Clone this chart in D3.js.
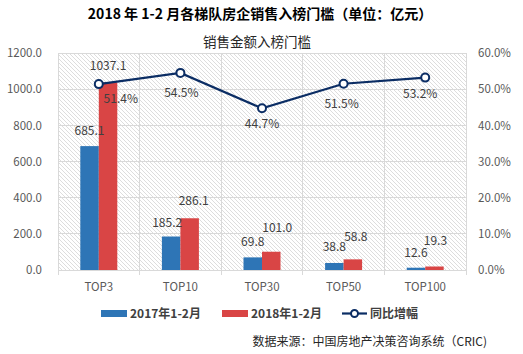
<!DOCTYPE html>
<html><head><meta charset="utf-8">
<script src="https://cdn.jsdelivr.net/npm/d3@7"></script>
<style>
body{margin:0;background:#fff;}
svg{display:block;font-family:"Noto Sans CJK SC","Noto Sans",sans-serif;}
</style></head>
<body>
<svg id="c" width="523" height="354"></svg>
<script>
const categories = ["TOP3","TOP10","TOP30","TOP50","TOP100"];
const sales2017 = [685.1,185.2,69.8,38.8,12.6];
const sales2018 = [1037.1,286.1,101.0,58.8,19.3];
const growth = [0.514,0.545,0.447,0.515,0.532];
const leftTicks = [0,200,400,600,800,1000,1200];
const rightTicks = [0,0.1,0.2,0.3,0.4,0.5,0.6];
const seriesNames = ["2017年1-2月","2018年1-2月","同比增幅"];
const colors = {blue:"#2E75B6", red:"#D94545", line:"#0B2D64", text:"#595959", grid:"#d9d9d9"};
// label nudges (layout only)
const lab17dx = [0,-4,0,0,0], lab17dy = [11,10,11,12,11];
const lab18dx = [0,4,6,3,1],  lab18dy = [12,13,20,18,22];
const gDx = [22,1,0,-2,-5], gDy = [19,24,20,24,20];

const svg = d3.select("#c");
const m = {l:58, r:466, t:53, b:270};

const x = d3.scaleBand().domain(categories).range([m.l,m.r]).paddingInner(0).paddingOuter(0);
const y = d3.scaleLinear().domain([0,1200]).range([m.b,m.t]);
const y2 = d3.scaleLinear().domain([0,0.6]).range([m.b,m.t]);

// hatch pattern
const defs = svg.append("defs");
const pat = defs.append("pattern").attr("id","hatch").attr("patternUnits","userSpaceOnUse")
  .attr("width",4).attr("height",4);
pat.append("rect").attr("width",4).attr("height",4).attr("fill","#fff");
pat.append("path").attr("d","M-1,-1 L5,5 M-1,3 L1,5 M3,-1 L5,1").attr("stroke","#d4d4d4").attr("stroke-width",0.8);

svg.append("rect").attr("x",m.l).attr("y",m.t).attr("width",m.r-m.l).attr("height",m.b-m.t).attr("fill","url(#hatch)");

// grid
svg.append("g").selectAll("line").data(leftTicks).join("line")
  .attr("x1",m.l).attr("x2",m.r).attr("y1",d=>y(d)).attr("y2",d=>y(d))
  .attr("stroke",colors.grid).attr("stroke-width",1).attr("shape-rendering","crispEdges");
const bounds = categories.map(c=>x(c)).concat([m.r]);
svg.append("g").selectAll("line").data(bounds).join("line")
  .attr("x1",d=>d).attr("x2",d=>d).attr("y1",m.t).attr("y2",m.b+5)
  .attr("stroke",colors.grid).attr("stroke-width",1).attr("shape-rendering","crispEdges");

// axes
const yl = d3.axisLeft(y).tickValues(leftTicks).tickFormat(d3.format(".1f")).tickSize(0).tickPadding(16);
const gl = svg.append("g").attr("transform",`translate(${m.l},0)`).call(yl);
const yr = d3.axisRight(y2).tickValues(rightTicks).tickFormat(d3.format(".1%")).tickSize(0).tickPadding(12);
const gr = svg.append("g").attr("transform",`translate(${m.r},0)`).call(yr);
const xa = d3.axisBottom(x).tickSize(0).tickPadding(13);
const gx = svg.append("g").attr("transform",`translate(0,${m.b})`).call(xa);
[gl,gr,gx].forEach(g=>{
  g.select(".domain").remove();
  g.selectAll("text").attr("fill",colors.text).attr("font-size",11.5)
   .attr("font-family","'Noto Sans CJK SC',sans-serif");
});

// bars
const bw = 18.5;
const bars = svg.append("g");
bars.selectAll(".b17").data(categories).join("rect")
  .attr("x",(d)=>x(d)+x.bandwidth()/2-bw).attr("width",bw)
  .attr("y",(d,i)=>y(sales2017[i])).attr("height",(d,i)=>m.b-y(sales2017[i])).attr("fill",colors.blue);
bars.selectAll(".b18").data(categories).join("rect")
  .attr("x",(d)=>x(d)+x.bandwidth()/2).attr("width",bw)
  .attr("y",(d,i)=>y(sales2018[i])).attr("height",(d,i)=>m.b-y(sales2018[i])).attr("fill",colors.red);

// bar labels
const lab = svg.append("g").attr("font-size",12).attr("fill","#404040").attr("text-anchor","middle");
lab.selectAll(".l17").data(categories).join("text")
  .attr("x",(d,i)=>x(d)+x.bandwidth()/2-bw/2+lab17dx[i]).attr("y",(d,i)=>y(sales2017[i])-lab17dy[i])
  .text((d,i)=>sales2017[i].toFixed(1));
lab.selectAll(".l18").data(categories).join("text")
  .attr("x",(d,i)=>x(d)+x.bandwidth()/2+bw/2+lab18dx[i]).attr("y",(d,i)=>y(sales2018[i])-lab18dy[i])
  .text((d,i)=>sales2018[i].toFixed(1));

// line
const line = d3.line().x((d,i)=>x(categories[i])+x.bandwidth()/2).y(d=>y2(d));
svg.append("path").datum(growth).attr("d",line).attr("fill","none").attr("stroke",colors.line).attr("stroke-width",2.2);
svg.append("g").selectAll("circle").data(growth).join("circle")
  .attr("cx",(d,i)=>x(categories[i])+x.bandwidth()/2).attr("cy",d=>y2(d)).attr("r",4)
  .attr("fill","#fff").attr("stroke",colors.line).attr("stroke-width",2);
svg.append("g").attr("font-size",12).attr("fill","#404040").attr("text-anchor","middle")
  .selectAll("text").data(growth).join("text")
  .attr("x",(d,i)=>x(categories[i])+x.bandwidth()/2+gDx[i]).attr("y",(d,i)=>y2(d)+gDy[i])
  .text(d=>d3.format(".1%")(d));

// titles
svg.append("text").attr("x",260).attr("y",19).attr("text-anchor","middle").attr("font-size",14)
  .attr("font-weight","bold").attr("fill","#000").text("2018 年 1-2 月各梯队房企销售入榜门槛（单位：亿元）");
svg.append("text").attr("x",257).attr("y",47).attr("text-anchor","middle").attr("font-size",13.5)
  .attr("fill","#262626").text("销售金额入榜门槛");

// legend
const lg = svg.append("g").attr("font-size",12).attr("font-weight","bold").attr("fill","#404040");
lg.append("rect").attr("x",101).attr("y",310).attr("width",26).attr("height",7).attr("fill",colors.blue);
lg.append("text").attr("x",130).attr("y",318).text(seriesNames[0]);
lg.append("rect").attr("x",222).attr("y",310).attr("width",26).attr("height",7).attr("fill",colors.red);
lg.append("text").attr("x",251).attr("y",318).text(seriesNames[1]);
lg.append("line").attr("x1",342).attr("x2",367).attr("y1",313.5).attr("y2",313.5).attr("stroke",colors.line).attr("stroke-width",2.2);
lg.append("circle").attr("cx",354.5).attr("cy",313.5).attr("r",3.5).attr("fill","#fff").attr("stroke",colors.line).attr("stroke-width",2);
lg.append("text").attr("x",370).attr("y",318).text(seriesNames[2]);

svg.append("text").attr("x",487).attr("y",346).attr("text-anchor","end").attr("font-size",12)
  .attr("fill","#262626").text("数据来源：中国房地产决策咨询系统（CRIC)");
</script>
</body></html>
